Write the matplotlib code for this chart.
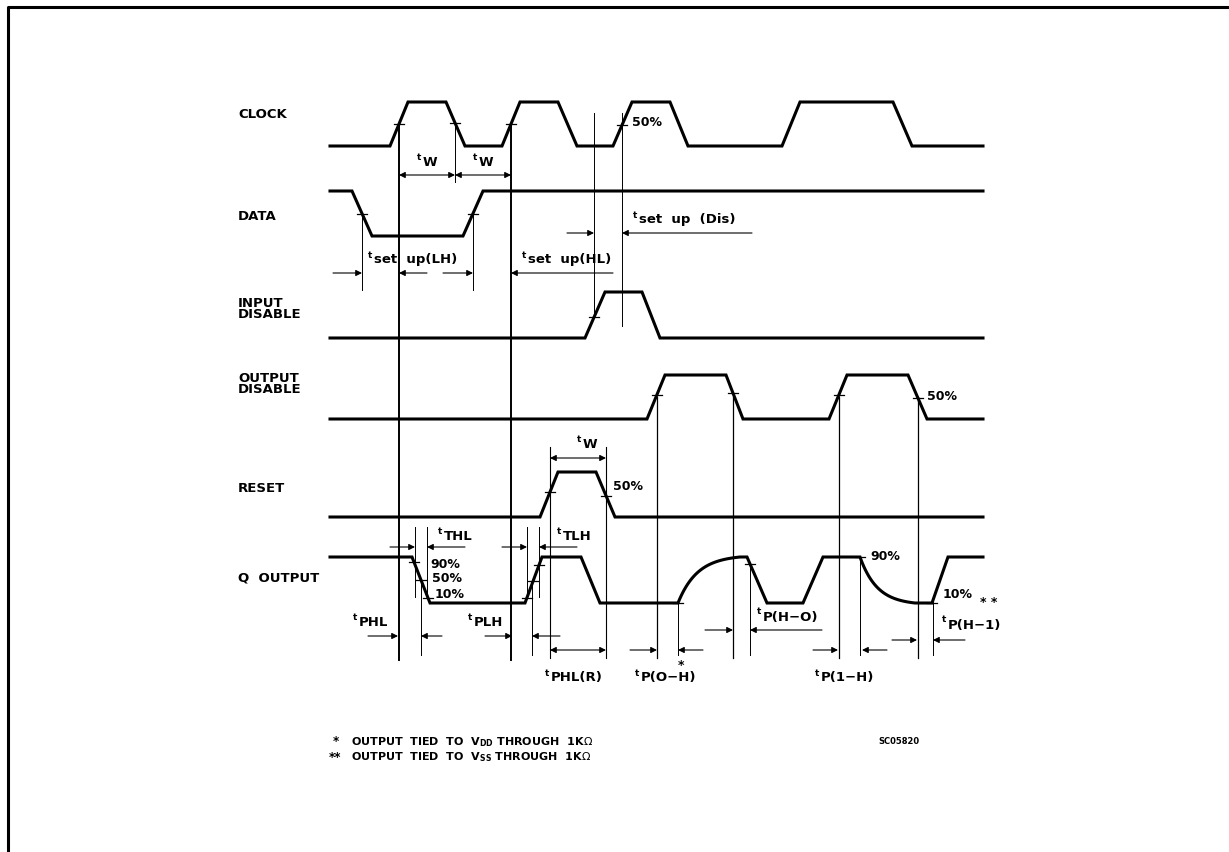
import numpy as np
import matplotlib.pyplot as plt

W, H = 1229, 852
X0, X1 = 330, 983  # waveform start / end

# signal rows
names = ["CLOCK", "DATA", "INPUT\nDISABLE", "OUTPUT\nDISABLE", "RESET", "Q  OUTPUT"]
label_y = [115, 217, 309, 384, 488, 578]
high_y = [102, 191, 292, 375, 472, 557]
low_y = [146, 236, 338, 419, 517, 603]
start_high = [False, True, False, False, False, True]

# transitions (start, end) for every signal
clock_edges = [(390, 408), (446, 465), (502, 520), (558, 577), (613, 632), (670, 688), (782, 800), (893, 912)]
data_edges = [(352, 372), (463, 483)]
indis_edges = [(585, 605), (642, 660)]
outdis_edges = [(647, 665), (726, 743), (829, 847), (908, 927)]
reset_edges = [(540, 558), (596, 615)]
q_edges = [(412, 430), (525, 542), (581, 600), (678, 740), (747, 767), (803, 823), (860, 915), (932, 948)]
q_rc = [False, False, False, True, False, False, True, False]
edges = [clock_edges, data_edges, indis_edges, outdis_edges, reset_edges, q_edges]

# small measuring ticks on the edges (row, x)
ticks = [(0, 399), (0, 455), (0, 511), (0, 622), (1, 362), (1, 473), (2, 594),
         (3, 657), (3, 733), (3, 839), (3, 918), (4, 550), (4, 606),
         (5, 414), (5, 421), (5, 428), (5, 527), (5, 533), (5, 539),
         (5, 678), (5, 750), (5, 860), (5, 932)]

# reference lines (x, top, bottom, width)
vlines = [(399, 124, 660, 1.4), (455, 124, 182, 0.7), (511, 124, 660, 1.4),
          (594, 113, 315, 0.7), (622, 113, 326, 0.7), (362, 213, 290, 0.7),
          (473, 213, 290, 0.7), (657, 397, 658, 0.9), (733, 397, 658, 0.9),
          (839, 397, 658, 0.9), (918, 397, 658, 0.9), (550, 447, 658, 0.8),
          (606, 447, 658, 0.8), (415, 527, 597, 0.7), (427, 527, 597, 0.7),
          (421, 580, 655, 0.7), (527, 527, 597, 0.7), (539, 527, 597, 0.7),
          (532, 580, 655, 0.7), (678, 603, 655, 0.7), (750, 565, 655, 0.7),
          (860, 557, 655, 0.7), (933, 595, 655, 0.7)]

# dimension arrows: (y, tail, tip) pointing inwards, or (y, a, b) both ends
dims_in = [(273, 333, 362), (273, 427, 399), (273, 443, 473), (273, 613, 511),
           (233, 567, 594), (233, 752, 622), (547, 390, 415), (547, 465, 427),
           (547, 502, 527), (547, 577, 539), (636, 368, 398), (636, 442, 421),
           (636, 485, 512), (636, 560, 532), (650, 630, 657), (650, 703, 678),
           (630, 705, 733), (630, 822, 750), (650, 813, 838), (650, 887, 862),
           (640, 892, 917), (640, 965, 933)]
dims_both = [(175, 399, 455), (175, 455, 511), (458, 550, 606), (650, 550, 606)]

# timing labels: (x, y, text)
tlabels = [(417, 162, "W"), (473, 162, "W"), (577, 445, "W"),
           (368, 260, "set  up(LH)"), (522, 260, "set  up(HL)"), (633, 220, "set  up  (Dis)"),
           (438, 537, "THL"), (557, 537, "TLH"), (353, 622, "PHL"), (468, 622, "PLH"),
           (545, 678, "PHL(R)"), (635, 678, "P(O\u2212H)"), (757, 617, "P(H\u2212O)"),
           (815, 678, "P(1\u2212H)"), (942, 625, "P(H\u22121)")]
pct_labels = [(632, 123, "50%"), (927, 397, "50%"), (613, 487, "50%"),
              (430, 565, "90%"), (432, 578, "50%"), (435, 595, "10%"),
              (870, 557, "90%"), (943, 595, "10%")]


def wave(edge_list, hi, lo, high, rc=None):
    xs, ys = [X0], [hi if high else lo]
    for i, (a, b) in enumerate(edge_list):
        y0, y1 = (hi, lo) if high else (lo, hi)
        if rc and rc[i]:
            u = np.linspace(0, 1, 40)
            f = (1 - np.exp(-3.2 * u)) / (1 - np.exp(-3.2))
            xs += list(a + (b - a) * u)
            ys += list(y0 + (y1 - y0) * f)
        else:
            xs += [a, b]
            ys += [y0, y1]
        high = not high
    xs.append(X1)
    ys.append(hi if high else lo)
    return np.array(xs), np.array(ys)


fig = plt.figure(figsize=(12.29, 8.52), dpi=100)
ax = fig.add_axes([0, 0, 1, 1])
ax.set_xlim(0, W)
ax.set_ylim(H, 0)
ax.axis("off")

# frame
ax.plot([8, 8, W], [H, 7, 7], color="black", lw=2.2, solid_capstyle="butt")

waves = []
for i in range(len(names)):
    xs, ys = wave(edges[i], high_y[i], low_y[i], start_high[i], q_rc if i == 5 else None)
    waves.append((xs, ys))
    ax.plot(xs, ys, color="black", lw=2.2, solid_joinstyle="miter")
    ax.text(238, label_y[i], names[i], fontsize=9.5, fontweight="bold",
            ha="left", va="center", linespacing=0.85)

for row, x in ticks:
    xs, ys = waves[row]
    y = np.interp(x, xs, ys)
    ax.plot([x - 5, x + 5], [y, y], color="black", lw=0.9)

for x, y0, y1, lw in vlines:
    ax.plot([x, x], [y0, y1], color="black", lw=lw)

arrow = dict(color="black", lw=0.8, shrinkA=0, shrinkB=0, mutation_scale=9)
for y, tail, tip in dims_in:
    ax.annotate("", xy=(tip, y), xytext=(tail, y), arrowprops=dict(arrowstyle="-|>", **arrow))
for y, a, b in dims_both:
    ax.annotate("", xy=(b, y), xytext=(a, y), arrowprops=dict(arrowstyle="<|-|>", **arrow))

for x, y, body in tlabels:
    ax.text(x, y - 5, "t", fontsize=6.5, fontweight="bold", ha="left", va="center")
    ax.text(x + 6, y, body, fontsize=9.5, fontweight="bold", ha="left", va="center")

for x, y, s in pct_labels:
    ax.text(x, y, s, fontsize=9, fontweight="bold", ha="left", va="center")

# footnote markers
ax.text(681, 665, "*", fontsize=9, fontweight="bold", ha="center", va="center")
ax.text(989, 603, "* *", fontsize=9, fontweight="bold", ha="center", va="center")

ax.text(333, 742, "*", fontsize=8.5, fontweight="bold", ha="left", va="center")
ax.text(329, 757, "**", fontsize=8.5, fontweight="bold", ha="left", va="center")
ax.text(351, 742, r"OUTPUT  TIED  TO  V$_{\mathregular{DD}}$ THROUGH  1K$\Omega$",
        fontsize=8, fontweight="bold", ha="left", va="center")
ax.text(351, 757, r"OUTPUT  TIED  TO  V$_{\mathregular{SS}}$ THROUGH  1K$\Omega$",
        fontsize=8, fontweight="bold", ha="left", va="center")
ax.text(878, 742, "SC05820", fontsize=6, fontweight="bold", ha="left", va="center")

fig.savefig("out.png", dpi=100, facecolor="white")
